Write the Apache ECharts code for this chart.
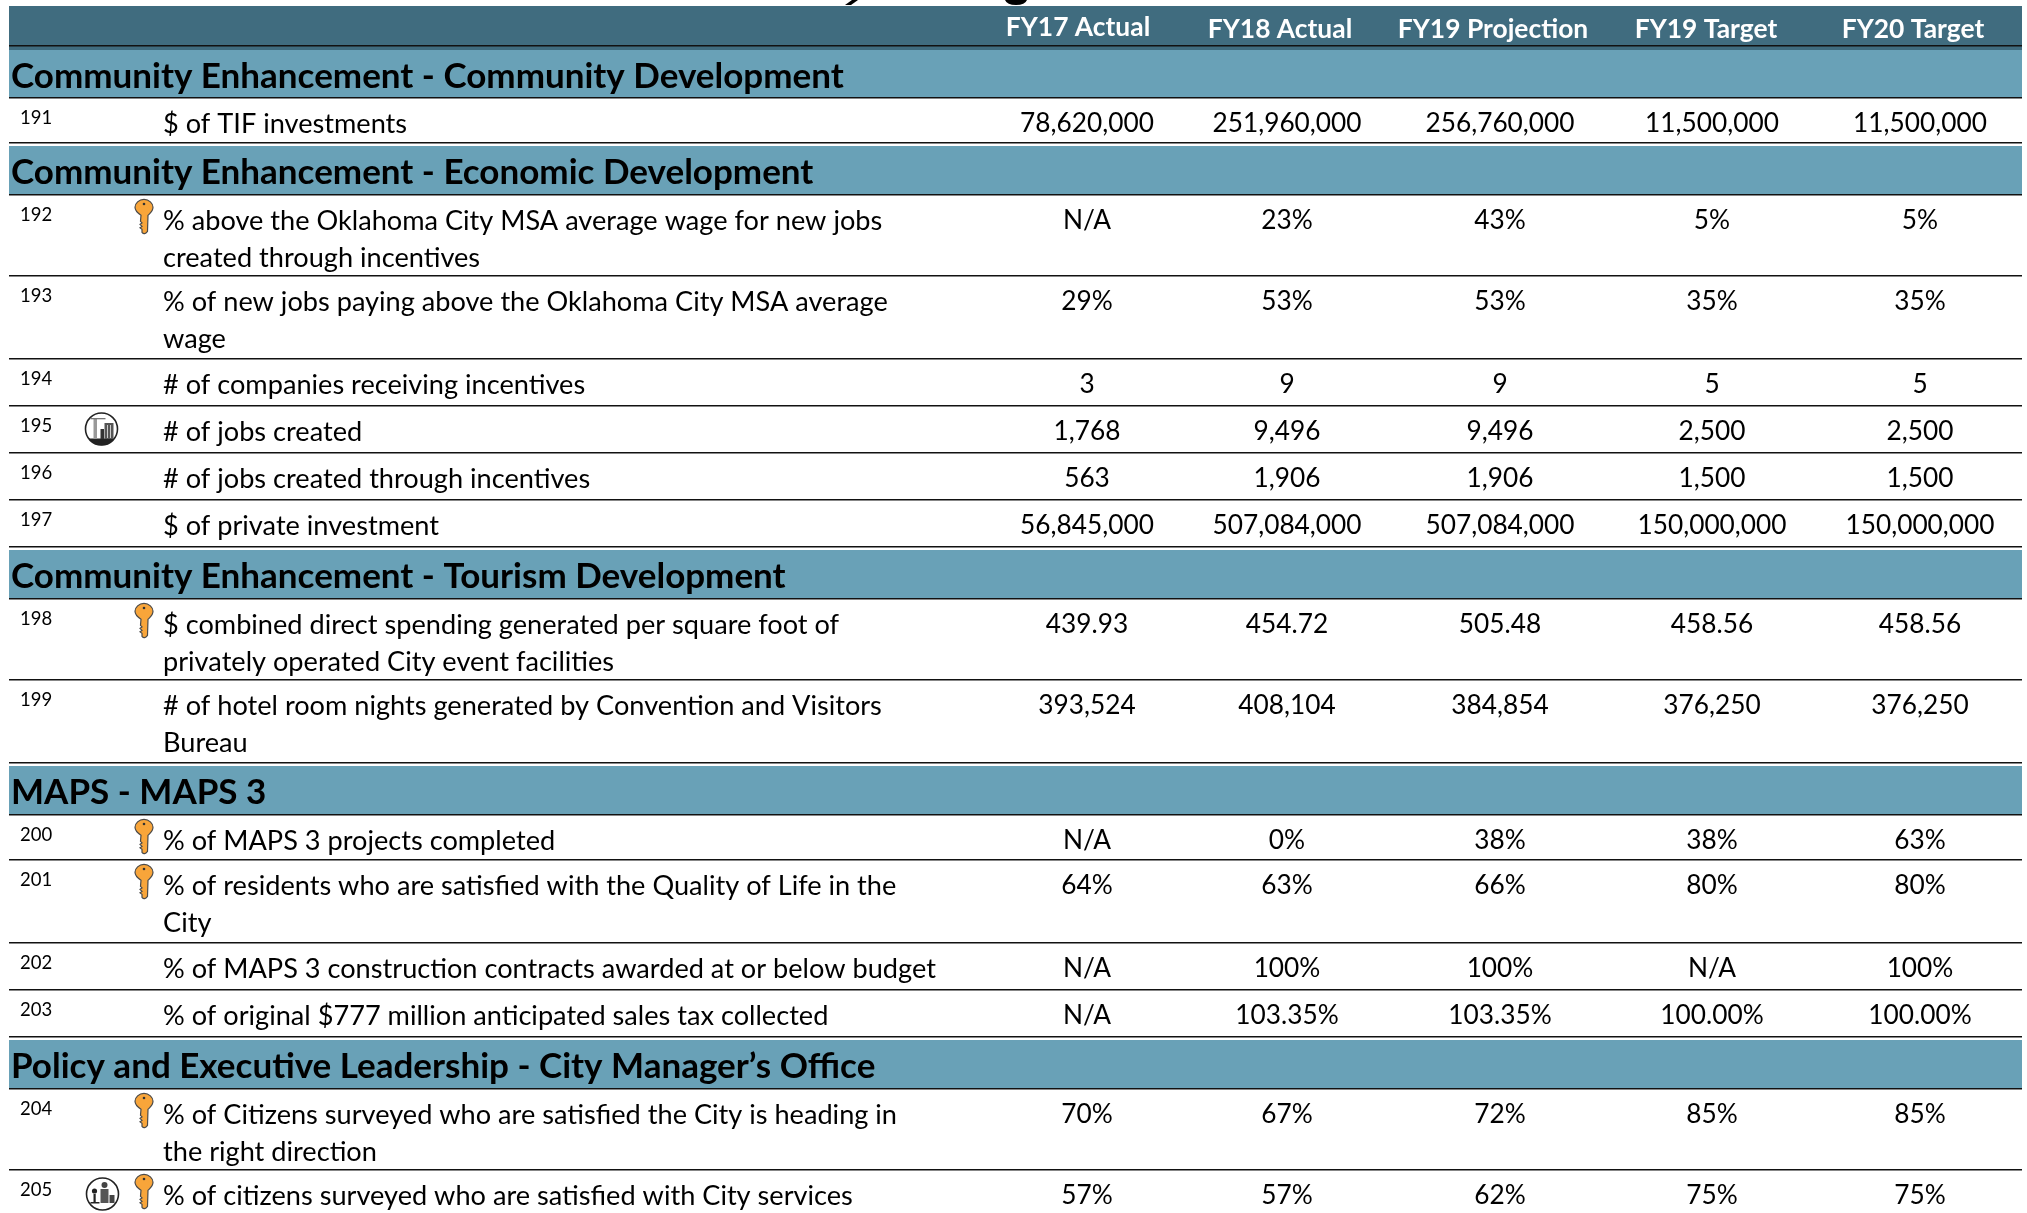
<!DOCTYPE html>
<html>
<head>
<meta charset="utf-8">
<title>Performance measures</title>
<style>
  html, body { margin: 0; padding: 0; background: #fff; }
  #main { width: 2027px; height: 1213px; }
</style>
<script src="https://cdn.jsdelivr.net/npm/echarts@6/dist/echarts.min.js"></script>
</head>
<body>
<div id="main"></div>
<script>
// table content
const columnNames = ['FY17 Actual', 'FY18 Actual', 'FY19 Projection', 'FY19 Target', 'FY20 Target'];
const sectionNames = [
  'Community Enhancement - Community Development',
  'Community Enhancement - Economic Development',
  'Community Enhancement - Tourism Development',
  'MAPS - MAPS 3',
  'Policy and Executive Leadership - City Manager\u2019s Office'
];
const measureIds = ['191', '192', '193', '194', '195', '196', '197', '198', '199', '200', '201', '202', '203', '204', '205'];
const measureLabels = [
  '$ of TIF investments',
  '% above the Oklahoma City MSA average wage for new jobs\ncreated through incentives',
  '% of new jobs paying above the Oklahoma City MSA average\nwage',
  '# of companies receiving incentives',
  '# of jobs created',
  '# of jobs created through incentives',
  '$ of private investment',
  '$ combined direct spending generated per square foot of\nprivately operated City event facilities',
  '# of hotel room nights generated by Convention and Visitors\nBureau',
  '% of MAPS 3 projects completed',
  '% of residents who are satisfied with the Quality of Life in the\nCity',
  '% of MAPS 3 construction contracts awarded at or below budget',
  '% of original $777 million anticipated sales tax collected',
  '% of Citizens surveyed who are satisfied the City is heading in\nthe right direction',
  '% of citizens surveyed who are satisfied with City services'
];
const fy17Actual = ['78,620,000', 'N/A', '29%', '3', '1,768', '563', '56,845,000', '439.93', '393,524', 'N/A', '64%', 'N/A', 'N/A', '70%', '57%'];
const fy18Actual = ['251,960,000', '23%', '53%', '9', '9,496', '1,906', '507,084,000', '454.72', '408,104', '0%', '63%', '100%', '103.35%', '67%', '57%'];
const fy19Projection = ['256,760,000', '43%', '53%', '9', '9,496', '1,906', '507,084,000', '505.48', '384,854', '38%', '66%', '100%', '103.35%', '72%', '62%'];
const fy19Target = ['11,500,000', '5%', '35%', '5', '2,500', '1,500', '150,000,000', '458.56', '376,250', '38%', '80%', 'N/A', '100.00%', '85%', '75%'];
const fy20Target = ['11,500,000', '5%', '35%', '5', '2,500', '1,500', '150,000,000', '458.56', '376,250', '63%', '80%', '100%', '100.00%', '85%', '75%'];
const keyMeasures = ['192', '198', '200', '201', '204', '205'];
const cityMeasures = ['195'];
const peopleMeasures = ['205'];

// layout, in page pixels
const columnValueX = [1087, 1287, 1500, 1712, 1920];
const columnHeadX = [1078, 1280, 1493, 1706, 1913];
const columnHeadY = [28, 30, 30, 30, 30];
const sectionTops = [50, 146, 550, 766, 1040];
const sectionBottoms = [97, 194, 598, 814, 1088];
const rowTops = [97, 194, 275, 358, 405, 452, 499, 598, 679, 814, 859, 942, 989, 1088, 1169];
const rowBottoms = [142, 275, 358, 405, 452, 499, 546, 679, 762, 859, 942, 989, 1036, 1169, null];
const LEFT = 9;
const RIGHT = 2022;

const FONT = 'Lato, "Open Sans", sans-serif';
const HEAD_COLOR = '#406C7F';
const SECTION_COLOR = '#69A1B7';
const LINE_COLOR = '#111';

const KEY_PATH = 'M9 0C14 0 18 4 18 8C18 12 15 14 13 16L12.5 32Q9.5 36 7 33L7 30L5 28.5L7 27L5 25L7 23.5L5.5 22L6 16C3 14 0 12 0 8C0 4 4 0 9 0Z';

function pt(api, x, y) {
  return api.coord([x, y]);
}

function rect(api, x0, y0, x1, y1, fill) {
  const a = pt(api, x0, y0);
  const b = pt(api, x1, y1);
  return { type: 'rect', shape: { x: a[0], y: a[1], width: b[0] - a[0], height: b[1] - a[1] }, style: { fill: fill } };
}

function hLine(api, y) {
  const a = pt(api, LEFT, y);
  const b = pt(api, RIGHT, y);
  return { type: 'rect', shape: { x: a[0], y: a[1], width: b[0] - a[0], height: 1.5 }, style: { fill: LINE_COLOR } };
}

function label(api, x, y, text, size, opts) {
  const p = pt(api, x, y);
  opts = opts || {};
  return {
    type: 'text',
    x: p[0],
    y: p[1],
    scaleX: opts.scaleX || 1,
    style: {
      text: text,
      x: 0,
      y: 0,
      fill: opts.fill || '#000',
      font: (opts.bold ? 'bold ' : '') + size + 'px ' + FONT,
      textAlign: opts.align || 'left',
      textVerticalAlign: 'middle'
    }
  };
}

function keyIcon(api, x, y) {
  const p = pt(api, x, y);
  return {
    type: 'group',
    x: p[0],
    y: p[1],
    children: [
      { type: 'path', shape: { pathData: KEY_PATH, x: 0, y: 0, width: 18, height: 35 }, style: { fill: '#F8A53A', stroke: '#4a4a4a', lineWidth: 1.2 } },
      { type: 'circle', shape: { cx: 9, cy: 5, r: 1.3 }, style: { fill: '#333' } }
    ]
  };
}

function cityIcon(api, cx, cy) {
  const p = pt(api, cx, cy);
  return {
    type: 'group',
    x: p[0],
    y: p[1],
    children: [
      { type: 'circle', shape: { cx: 0, cy: 0, r: 16 }, style: { fill: '#fff', stroke: '#222', lineWidth: 1.6 } },
      { type: 'path', shape: { pathData: 'M-13 9.5L13 9.5A16 16 0 0 1 -13 9.5Z' }, style: { fill: '#222' } },
      { type: 'rect', shape: { x: -8, y: -11, width: 3.5, height: 21 }, style: { fill: '#999' } },
      { type: 'rect', shape: { x: -11, y: -11, width: 15, height: 1.3 }, style: { fill: '#777' } },
      { type: 'rect', shape: { x: -1, y: 0, width: 3.5, height: 10 }, style: { fill: '#333' } },
      { type: 'rect', shape: { x: 3, y: -6, width: 9, height: 16 }, style: { fill: '#555' } },
      { type: 'rect', shape: { x: 5.5, y: -4, width: 1, height: 13 }, style: { fill: '#ccc' } },
      { type: 'rect', shape: { x: 8.5, y: -4, width: 1, height: 13 }, style: { fill: '#ccc' } }
    ]
  };
}

function peopleIcon(api, cx, cy) {
  const p = pt(api, cx, cy);
  return {
    type: 'group',
    x: p[0],
    y: p[1],
    children: [
      { type: 'circle', shape: { cx: 0, cy: 0, r: 16 }, style: { fill: '#fff', stroke: '#222', lineWidth: 1.6 } },
      { type: 'circle', shape: { cx: -8, cy: -3, r: 2.6 }, style: { fill: '#222' } },
      { type: 'rect', shape: { x: -9, y: 0, width: 2.2, height: 8 }, style: { fill: '#222' } },
      { type: 'rect', shape: { x: -12, y: 8, width: 9, height: 1.5 }, style: { fill: '#222' } },
      { type: 'circle', shape: { cx: 2, cy: -9, r: 3 }, style: { fill: '#444' } },
      { type: 'rect', shape: { x: -2, y: -5, width: 8, height: 14 }, style: { fill: '#555' } },
      { type: 'rect', shape: { x: 7, y: 1, width: 5, height: 8 }, style: { fill: '#444' } }
    ]
  };
}

function renderHeader(params, api) {
  const children = [
    rect(api, LEFT, 6, RIGHT, 50, HEAD_COLOR),
    hLine(api, 45),
    // bottom of the title, cut off by the page edge
    { type: 'polygon', shape: { points: [pt(api, 852, 0), pt(api, 858, 0), pt(api, 851, 5), pt(api, 845, 5)] }, style: { fill: '#000' } },
    { type: 'path', shape: { pathData: 'M1005 0L1027 0Q1025 5 1016 5Q1007 5 1005 0Z' }, style: { fill: '#000' } }
  ];
  columnNames.forEach(function (name, i) {
    children.push(label(api, columnHeadX[i], columnHeadY[i], name, 26, { bold: true, fill: '#fff', align: 'center', scaleX: 1.015 }));
  });
  return { type: 'group', children: children };
}

function renderSection(params, api) {
  const i = api.value(0);
  return {
    type: 'group',
    children: [
      rect(api, LEFT, sectionTops[i], RIGHT, sectionBottoms[i], SECTION_COLOR),
      hLine(api, sectionBottoms[i]),
      label(api, 11, (sectionTops[i] + sectionBottoms[i]) / 2 + 3, sectionNames[i], 35, { bold: true })
    ]
  };
}

function renderRow(params, api) {
  const i = api.value(0);
  const top = rowTops[i];
  const id = measureIds[i];
  const children = [label(api, 20, top + 21, id, 18.5)];
  measureLabels[i].split('\n').forEach(function (line, n) {
    children.push(label(api, 163, top + 28 + n * 36.5, line, 26, { scaleX: 1.044 }));
  });
  [fy17Actual, fy18Actual, fy19Projection, fy19Target, fy20Target].forEach(function (col, c) {
    children.push(label(api, columnValueX[c], top + 26.8, col[i], 26, { align: 'center', scaleX: 1.01 }));
  });
  if (keyMeasures.indexOf(id) >= 0) children.push(keyIcon(api, 135, top + 5));
  if (cityMeasures.indexOf(id) >= 0) children.push(cityIcon(api, 101.5, top + 24));
  if (peopleMeasures.indexOf(id) >= 0) children.push(peopleIcon(api, 102.5, top + 25));
  if (rowBottoms[i] !== null) children.push(hLine(api, rowBottoms[i]));
  return { type: 'group', children: children };
}

const chart = echarts.init(document.getElementById('main'), null, { renderer: 'canvas' });

function customSeries(name, count, renderItem) {
  return {
    name: name,
    type: 'custom',
    coordinateSystem: 'cartesian2d',
    silent: true,
    clip: false,
    animation: false,
    data: Array.from({ length: count }, function (_, i) { return [i]; }),
    encode: { x: -1, y: -1 },
    renderItem: renderItem
  };
}

chart.setOption({
  backgroundColor: '#fff',
  animation: false,
  grid: { left: 0, right: 0, top: 0, bottom: 0 },
  xAxis: { type: 'value', min: 0, max: 2027, show: false },
  yAxis: { type: 'value', min: 0, max: 1213, inverse: true, show: false },
  series: [
    customSeries('sections', sectionNames.length, renderSection),
    customSeries('header', 1, renderHeader),
    customSeries('measures', measureIds.length, renderRow)
  ]
});
</script>
</body>
</html>
